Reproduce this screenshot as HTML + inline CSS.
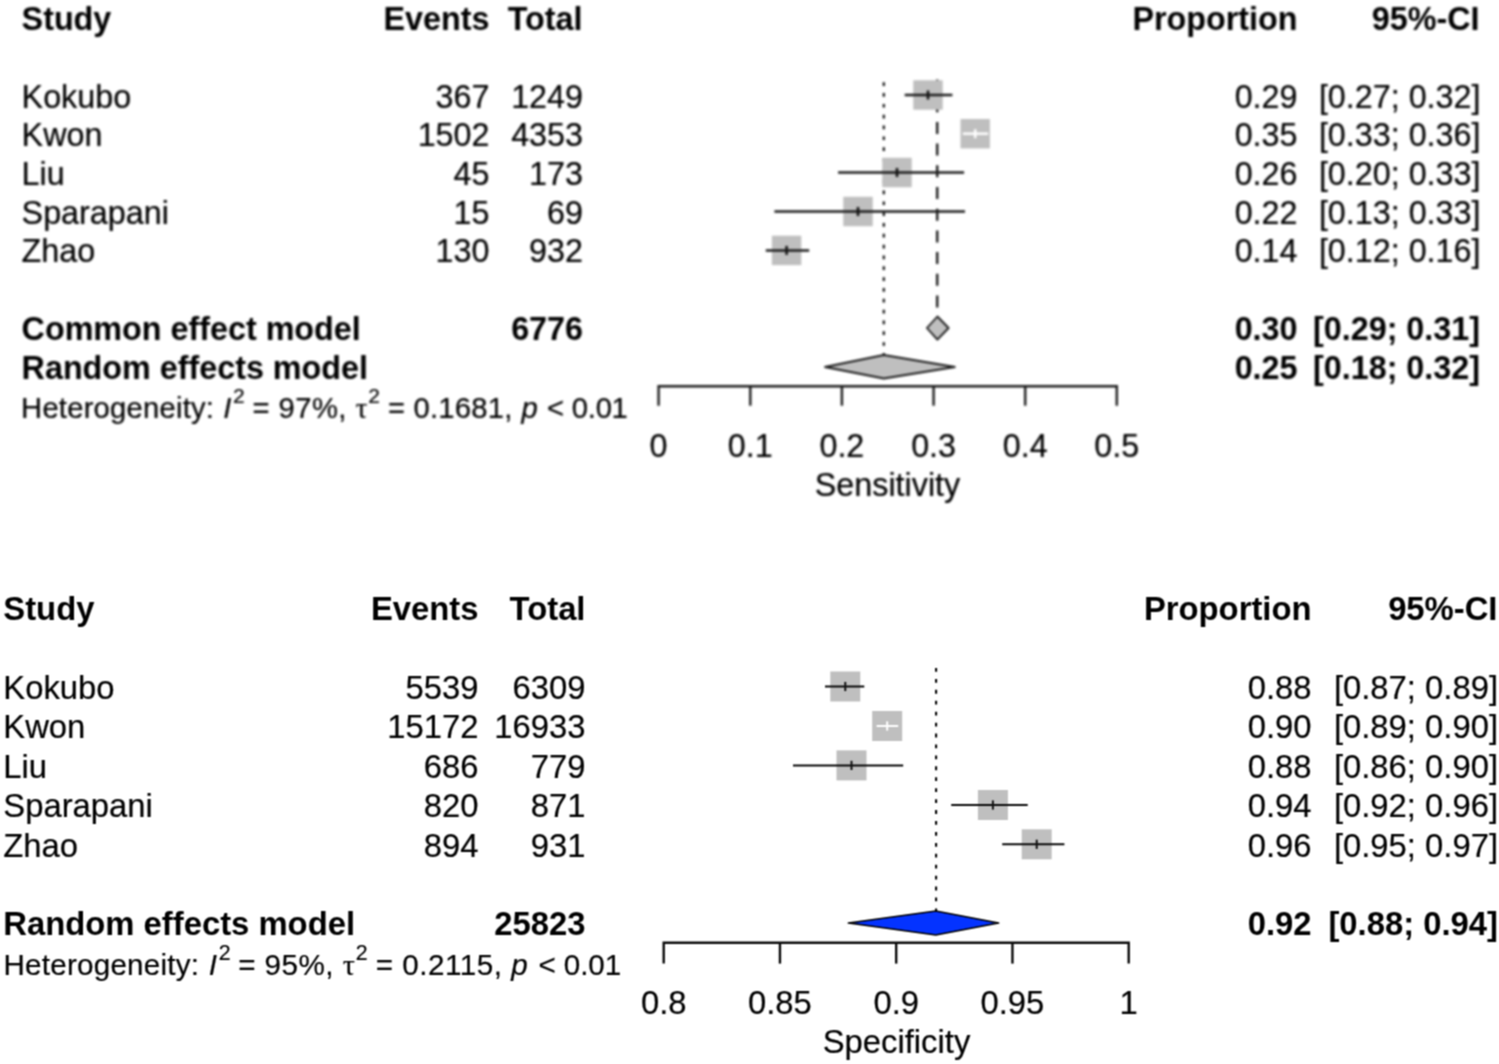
<!DOCTYPE html>
<html lang="en">
<head>
<meta charset="utf-8">
<title>Forest plots: Sensitivity and Specificity</title>
<style>
html,body{margin:0;padding:0;background:#fff;}
body{width:1499px;height:1064px;overflow:hidden;}
svg{display:block;}
text{font-family:"Liberation Sans",sans-serif;fill:#000000;stroke:#000000;stroke-width:0.2px;}
.b{font-weight:bold;stroke:none;}
.i{font-style:italic;}
.e{text-anchor:end;}
.m{text-anchor:middle;}
</style>
</head>
<body>
<svg width="1499" height="1064" viewBox="0 0 1499 1064">
<defs><filter id="soft1" x="0" y="0" width="1499" height="540" filterUnits="userSpaceOnUse" color-interpolation-filters="sRGB"><feGaussianBlur stdDeviation="0.8"/></filter><filter id="soft2" x="0" y="540" width="1499" height="524" filterUnits="userSpaceOnUse" color-interpolation-filters="sRGB"><feConvolveMatrix order="3" kernelMatrix="0.0625 0.1250 0.0625 0.1250 0.2500 0.1250 0.0625 0.1250 0.0625" divisor="1" edgeMode="duplicate" preserveAlpha="false"/></filter></defs>
<rect x="0" y="0" width="1499" height="1064" fill="#ffffff"/>

<!-- Sensitivity forest plot -->
<g filter="url(#soft1)">
<g font-size="32.3">
<text class="b" x="21.6" y="29.8">Study</text>
<text class="b e" x="489.5" y="29.8">Events</text>
<text class="b e" x="582.5" y="29.8">Total</text>
<text class="b e" x="1297.5" y="29.8">Proportion</text>
<text class="b e" x="1479.5" y="29.8">95%-CI</text>
<text x="21.6" y="107.6">Kokubo</text>
<text class="e" x="489.5" y="107.6">367</text>
<text class="e" x="583" y="107.6">1249</text>
<text class="e" x="1297.5" y="107.6">0.29</text>
<text class="e" x="1480.5" y="107.6">[0.27; 0.32]</text>
<text x="21.6" y="146.32">Kwon</text>
<text class="e" x="489.5" y="146.32">1502</text>
<text class="e" x="583" y="146.32">4353</text>
<text class="e" x="1297.5" y="146.32">0.35</text>
<text class="e" x="1480.5" y="146.32">[0.33; 0.36]</text>
<text x="21.6" y="185.04">Liu</text>
<text class="e" x="489.5" y="185.04">45</text>
<text class="e" x="583" y="185.04">173</text>
<text class="e" x="1297.5" y="185.04">0.26</text>
<text class="e" x="1480.5" y="185.04">[0.20; 0.33]</text>
<text x="21.6" y="223.76">Sparapani</text>
<text class="e" x="489.5" y="223.76">15</text>
<text class="e" x="583" y="223.76">69</text>
<text class="e" x="1297.5" y="223.76">0.22</text>
<text class="e" x="1480.5" y="223.76">[0.13; 0.33]</text>
<text x="21.6" y="262.48">Zhao</text>
<text class="e" x="489.5" y="262.48">130</text>
<text class="e" x="583" y="262.48">932</text>
<text class="e" x="1297.5" y="262.48">0.14</text>
<text class="e" x="1480.5" y="262.48">[0.12; 0.16]</text>
<text class="b" x="21.6" y="339.6">Common effect model</text>
<text class="b e" x="583" y="339.6">6776</text>
<text class="b e" x="1297.5" y="339.6">0.30</text>
<text class="b e" x="1480" y="339.6">[0.29; 0.31]</text>
<text class="b" x="21.6" y="378.5">Random effects model</text>
<text class="b e" x="1297.5" y="378.5">0.25</text>
<text class="b e" x="1480" y="378.5">[0.18; 0.32]</text>
</g>
<text x="21.1" y="417.5" font-size="29.2" letter-spacing="0.23">Heterogeneity:</text>
<text x="223.3" y="417.5" font-size="29.2" class="i">I</text>
<text x="233.12" y="403.1" font-size="21.02">2</text>
<text x="252.5" y="417.5" font-size="29.2" letter-spacing="0.46">= 97%,</text>
<text x="355.48" y="417.5" font-size="30" style="font-family:'Liberation Serif','DejaVu Serif',serif">τ</text>
<text x="368.33" y="403.1" font-size="21.02">2</text>
<text x="387.9" y="417.5" font-size="29.2" letter-spacing="0.24">= 0.1681,</text>
<text x="521.55" y="417.5" font-size="29.2" class="i">p</text>
<text x="547.1" y="417.5" font-size="29.2" letter-spacing="-0.24">&lt; 0.01</text>
<line x1="883.8" y1="82.25" x2="883.8" y2="355" stroke="#000000" stroke-width="2.1" stroke-dasharray="3.7 7.13" stroke-dashoffset="0"/>
<line x1="937.2" y1="79.4" x2="937.2" y2="316" stroke="#1c1c1c" stroke-width="2.4" stroke-dasharray="12 9.7" stroke-dashoffset="0.9"/>
<rect x="913.3" y="80.3" width="29.4" height="29.4" fill="#bfbfbf"/>
<line x1="904.7" y1="95" x2="952.4" y2="95" stroke="#1c1c1c" stroke-width="2.5"/>
<line x1="928" y1="90.5" x2="928" y2="99.5" stroke="#111111" stroke-width="2.5"/>
<rect x="960.5" y="119" width="29.4" height="29.4" fill="#bfbfbf"/>
<line x1="962.8" y1="133.7" x2="988.2" y2="133.7" stroke="#ffffff" stroke-width="2.5"/>
<line x1="975.2" y1="129.2" x2="975.2" y2="138.2" stroke="#ffffff" stroke-width="2.5"/>
<rect x="882.3" y="157.8" width="29.4" height="29.4" fill="#bfbfbf"/>
<line x1="838.1" y1="172.5" x2="964.1" y2="172.5" stroke="#1c1c1c" stroke-width="2.5"/>
<line x1="897" y1="168" x2="897" y2="177" stroke="#111111" stroke-width="2.5"/>
<rect x="843.3" y="196.8" width="29.4" height="29.4" fill="#bfbfbf"/>
<line x1="774.4" y1="211.5" x2="965" y2="211.5" stroke="#1c1c1c" stroke-width="2.5"/>
<line x1="858" y1="207" x2="858" y2="216" stroke="#111111" stroke-width="2.5"/>
<rect x="771.9" y="235.7" width="29.4" height="29.4" fill="#bfbfbf"/>
<line x1="765.8" y1="250.4" x2="809.2" y2="250.4" stroke="#1c1c1c" stroke-width="2.5"/>
<line x1="786.6" y1="245.9" x2="786.6" y2="254.9" stroke="#111111" stroke-width="2.5"/>
<polygon points="926.9,328 937.4,316.5 948.6,328 937.4,339.6" fill="#bfbfbf" stroke="#1c1c1c" stroke-width="1.8" stroke-linejoin="round"/>
<polygon points="825,367 883.8,355 954.8,367 883.8,378.5" fill="#bfbfbf" stroke="#1c1c1c" stroke-width="1.8" stroke-linejoin="round"/>
<path d="M658.6 405.7 V386.2 H1116.8 V405.7" fill="none" stroke="#1c1c1c" stroke-width="2.4"/>
<line x1="750.3" y1="386.2" x2="750.3" y2="405.7" stroke="#1c1c1c" stroke-width="2.4"/>
<line x1="841.9" y1="386.2" x2="841.9" y2="405.7" stroke="#1c1c1c" stroke-width="2.4"/>
<line x1="933.6" y1="386.2" x2="933.6" y2="405.7" stroke="#1c1c1c" stroke-width="2.4"/>
<line x1="1025.2" y1="386.2" x2="1025.2" y2="405.7" stroke="#1c1c1c" stroke-width="2.4"/>
<g font-size="32.3" class="m">
<text class="m" x="658.6" y="456.6">0</text>
<text class="m" x="750.3" y="456.6">0.1</text>
<text class="m" x="841.9" y="456.6">0.2</text>
<text class="m" x="933.6" y="456.6">0.3</text>
<text class="m" x="1025.2" y="456.6">0.4</text>
<text class="m" x="1116.8" y="456.6">0.5</text>
<text class="m" x="887.5" y="496.4">Sensitivity</text>
</g>
</g>
<!-- Specificity forest plot -->
<g filter="url(#soft2)">
<g font-size="32.8">
<text class="b" x="3.3" y="619.7">Study</text>
<text class="b e" x="478.5" y="619.7">Events</text>
<text class="b e" x="585.5" y="619.7">Total</text>
<text class="b e" x="1311.5" y="619.7">Proportion</text>
<text class="b e" x="1497.5" y="619.7">95%-CI</text>
<text x="3.3" y="698.8">Kokubo</text>
<text class="e" x="478.5" y="698.8">5539</text>
<text class="e" x="585.5" y="698.8">6309</text>
<text class="e" x="1311.5" y="698.8">0.88</text>
<text class="e" x="1498" y="698.8">[0.87; 0.89]</text>
<text x="3.3" y="738.25">Kwon</text>
<text class="e" x="478.5" y="738.25">15172</text>
<text class="e" x="585.5" y="738.25">16933</text>
<text class="e" x="1311.5" y="738.25">0.90</text>
<text class="e" x="1498" y="738.25">[0.89; 0.90]</text>
<text x="3.3" y="777.7">Liu</text>
<text class="e" x="478.5" y="777.7">686</text>
<text class="e" x="585.5" y="777.7">779</text>
<text class="e" x="1311.5" y="777.7">0.88</text>
<text class="e" x="1498" y="777.7">[0.86; 0.90]</text>
<text x="3.3" y="817.15">Sparapani</text>
<text class="e" x="478.5" y="817.15">820</text>
<text class="e" x="585.5" y="817.15">871</text>
<text class="e" x="1311.5" y="817.15">0.94</text>
<text class="e" x="1498" y="817.15">[0.92; 0.96]</text>
<text x="3.3" y="856.6">Zhao</text>
<text class="e" x="478.5" y="856.6">894</text>
<text class="e" x="585.5" y="856.6">931</text>
<text class="e" x="1311.5" y="856.6">0.96</text>
<text class="e" x="1498" y="856.6">[0.95; 0.97]</text>
<text class="b" x="3.3" y="934.6">Random effects model</text>
<text class="b e" x="585.5" y="934.6">25823</text>
<text class="b e" x="1311.5" y="934.6">0.92</text>
<text class="b e" x="1498" y="934.6">[0.88; 0.94]</text>
</g>
<text x="3.4" y="975" font-size="29.64" letter-spacing="0.23">Heterogeneity:</text>
<text x="208.64" y="975" font-size="29.64" class="i">I</text>
<text x="218.63" y="960.39" font-size="21.34">2</text>
<text x="238.23" y="975" font-size="29.64" letter-spacing="0.43">= 95%,</text>
<text x="342.81" y="975" font-size="30.45" style="font-family:'Liberation Serif','DejaVu Serif',serif">τ</text>
<text x="355.85" y="960.39" font-size="21.34">2</text>
<text x="375.65" y="975" font-size="29.64" letter-spacing="0.52">= 0.2115,</text>
<text x="511.25" y="975" font-size="29.64" class="i">p</text>
<text x="538.52" y="975" font-size="29.64" letter-spacing="-0.12">&lt; 0.01</text>
<line x1="936.1" y1="668" x2="936.1" y2="911" stroke="#000000" stroke-width="2.1" stroke-dasharray="3.8 7.13" stroke-dashoffset="0"/>
<rect x="830.3" y="671.5" width="30" height="30" fill="#bfbfbf"/>
<line x1="825" y1="686.5" x2="864.3" y2="686.5" stroke="#0a0a0a" stroke-width="2"/>
<line x1="845.3" y1="681.9" x2="845.3" y2="691.1" stroke="#111111" stroke-width="2"/>
<rect x="872.2" y="711" width="30" height="30" fill="#bfbfbf"/>
<line x1="876.6" y1="726" x2="898.2" y2="726" stroke="#ffffff" stroke-width="2"/>
<line x1="887.2" y1="721.4" x2="887.2" y2="730.6" stroke="#ffffff" stroke-width="2"/>
<rect x="836.5" y="750.4" width="30" height="30" fill="#bfbfbf"/>
<line x1="793" y1="765.4" x2="903.2" y2="765.4" stroke="#0a0a0a" stroke-width="2"/>
<line x1="851.5" y1="760.8" x2="851.5" y2="770" stroke="#111111" stroke-width="2"/>
<rect x="977.9" y="790" width="30" height="30" fill="#bfbfbf"/>
<line x1="951.2" y1="805" x2="1027.7" y2="805" stroke="#0a0a0a" stroke-width="2"/>
<line x1="992.9" y1="800.4" x2="992.9" y2="809.6" stroke="#111111" stroke-width="2"/>
<rect x="1021.7" y="829.3" width="30" height="30" fill="#bfbfbf"/>
<line x1="1002.2" y1="844.3" x2="1064.4" y2="844.3" stroke="#0a0a0a" stroke-width="2"/>
<line x1="1036.7" y1="839.7" x2="1036.7" y2="848.9" stroke="#111111" stroke-width="2"/>
<polygon points="848.4,923 935.8,911 998.6,923 935.8,935" fill="#0433ff" stroke="#000000" stroke-width="1.7" stroke-linejoin="round"/>
<path d="M663.7 963.6 V942.8 H1128.7 V963.6" fill="none" stroke="#0a0a0a" stroke-width="2.4"/>
<line x1="779.95" y1="942.8" x2="779.95" y2="963.6" stroke="#0a0a0a" stroke-width="2.4"/>
<line x1="896.2" y1="942.8" x2="896.2" y2="963.6" stroke="#0a0a0a" stroke-width="2.4"/>
<line x1="1012.45" y1="942.8" x2="1012.45" y2="963.6" stroke="#0a0a0a" stroke-width="2.4"/>
<g font-size="32.8" class="m">
<text class="m" x="663.7" y="1014">0.8</text>
<text class="m" x="779.95" y="1014">0.85</text>
<text class="m" x="896.2" y="1014">0.9</text>
<text class="m" x="1012.45" y="1014">0.95</text>
<text class="m" x="1128.7" y="1014">1</text>
<text class="m" x="896.5" y="1052.9">Specificity</text>
</g>
</g>
</svg>
</body>
</html>
